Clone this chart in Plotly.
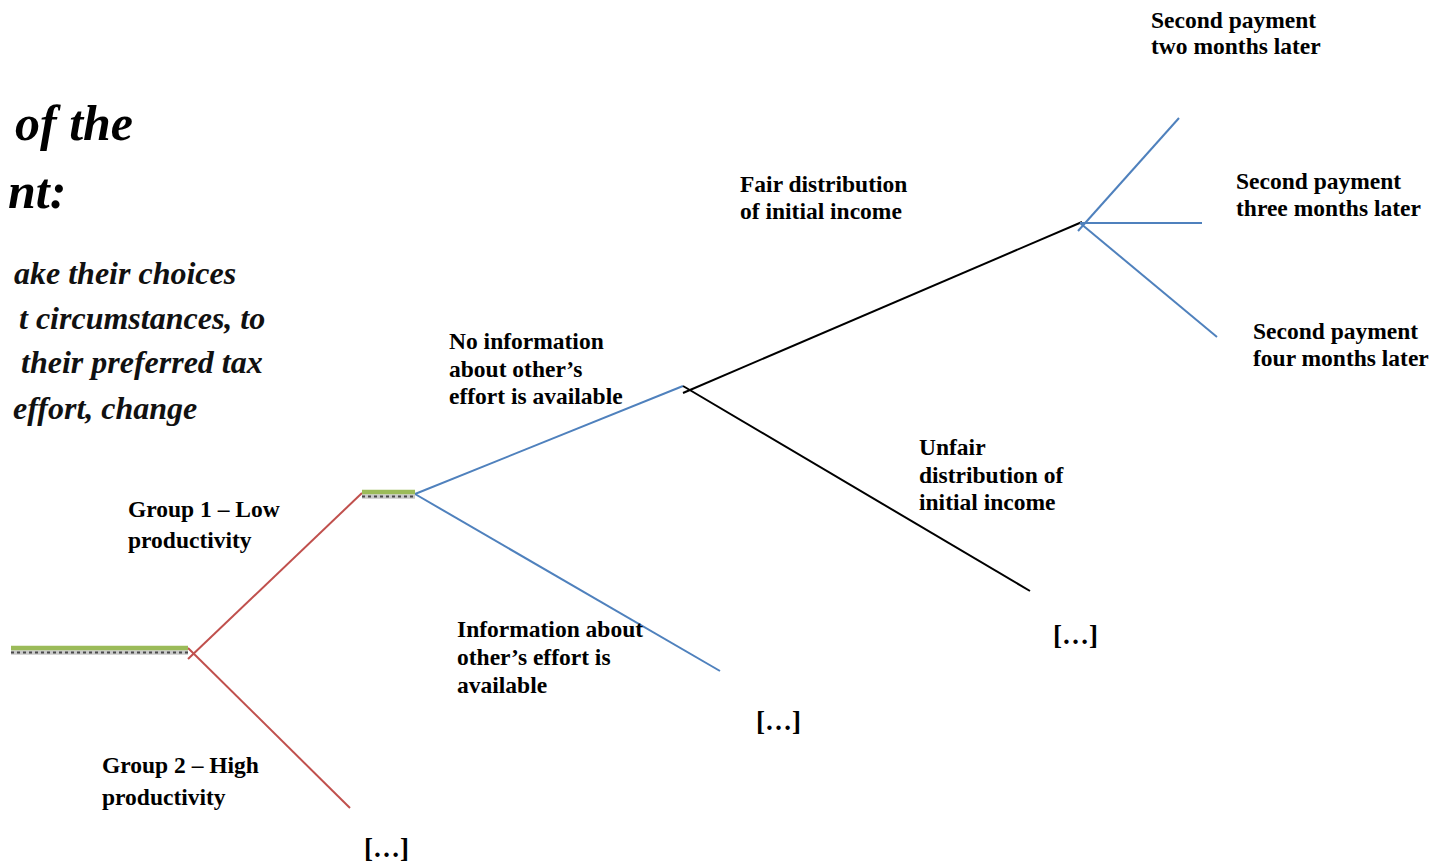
import plotly.graph_objects as go

W, H = 1437, 866
PAGE_MARGIN = 8  # default HTML body margin; the figure is offset by it

# Tree edges: (x0, y0, x1, y1) in diagram units
red_edges = [(188, 659, 362, 493), (188, 648, 350, 808)]
blue_edges = [(415, 494, 683, 386), (415, 494, 720, 671)]
black_edges = [(683, 393, 1082, 222), (683, 386, 1030, 591)]
fan_edges = [(1078, 231, 1179, 118), (1080, 223, 1202, 223), (1080, 223, 1217, 337)]

# Green decision-node bars: (x0, x1, y)
node_bars = [(11, 188, 648), (362, 415, 492)]

# Bold labels: (text, x, y)
labels = [
    ("Second payment", 1150, 20), ("two months later", 1150, 46),
    ("Second payment", 1235, 181), ("three months later", 1235, 208),
    ("Second payment", 1252, 331), ("four months later", 1252, 358),
    ("Fair distribution", 739, 184), ("of initial income", 739, 211),
    ("No information", 448, 341), ("about other’s", 448, 369), ("effort is available", 448, 396),
    ("Unfair", 918, 447), ("distribution of", 918, 475), ("initial income", 918, 502),
    ("Group 1 – Low", 127, 509), ("productivity", 127, 540),
    ("Information about", 456, 629), ("other’s effort is", 456, 657), ("available", 456, 685),
    ("Group 2 – High", 101, 765), ("productivity", 101, 797),
]
ellipses = [("[…]", 778, 721), ("[…]", 1075, 635), ("[…]", 386, 848)]

# Italic heading text (right-anchored)
title_lines = [("of the", 135, 123), ("nt:", 68, 191)]
body_lines = [("ake their choices", 238, 273), ("t circumstances, to", 267, 318),
              ("their preferred tax", 265, 362), ("effort, change", 199, 408)]


def seg_xy(edges):
    xs, ys = [], []
    for x0, y0, x1, y1 in edges:
        xs += [x0, x1, None]
        ys += [y0, y1, None]
    return xs, ys


fig = go.Figure()
for edges, col in [(red_edges, "#C0504D"), (blue_edges, "#4F81BD"),
                   (black_edges, "#000000"), (fan_edges, "#4F81BD")]:
    xs, ys = seg_xy(edges)
    fig.add_trace(go.Scatter(x=xs, y=ys, mode="lines",
                             line=dict(color=col, width=2), hoverinfo="skip"))

# node bars: green top, hatched gray underneath
gx, gy, hx, hy = [], [], [], []
for x0, x1, y in node_bars:
    gx += [x0, x1, None]
    gy += [y, y, None]
    hx += [x0, x1, None]
    hy += [y + 4.5, y + 4.5, None]
fig.add_trace(go.Scatter(x=hx, y=hy, mode="lines", line=dict(color="#c8c8c8", width=4.5), hoverinfo="skip"))
fig.add_trace(go.Scatter(x=hx, y=hy, mode="lines", line=dict(color="#4a4a4a", width=2, dash="dot"), hoverinfo="skip"))
fig.add_trace(go.Scatter(x=gx, y=gy, mode="lines", line=dict(color="#9BBB59", width=4.5), hoverinfo="skip"))

serif = "Liberation Serif"
for t, x, y in labels:
    fig.add_annotation(x=x, y=y, text=t, xref="x", yref="y", showarrow=False,
                       xanchor="left", yanchor="middle", borderpad=0,
                       font=dict(family=serif, size=23.5, color="black", weight="bold"))
for t, x, y in ellipses:
    fig.add_annotation(x=x, y=y, text=t, xref="x", yref="y", showarrow=False,
                       xanchor="center", yanchor="middle",
                       font=dict(family=serif, size=27, color="black", weight="bold"))
for t, x, y in title_lines:
    fig.add_annotation(x=x, y=y, text=t, xref="x", yref="y", showarrow=False,
                       xanchor="right", yanchor="middle",
                       font=dict(family=serif, size=50, color="black", weight="bold", style="italic"))
for t, x, y in body_lines:
    fig.add_annotation(x=x, y=y, text=t, xref="x", yref="y", showarrow=False,
                       xanchor="right", yanchor="middle",
                       font=dict(family=serif, size=32, color="#111111", weight="bold", style="italic"))

fig.update_layout(
    width=W - PAGE_MARGIN, height=H - PAGE_MARGIN, margin=dict(l=0, r=0, t=0, b=0),
    paper_bgcolor="white", plot_bgcolor="white", showlegend=False,
    xaxis=dict(range=[PAGE_MARGIN, W], visible=False, fixedrange=True),
    yaxis=dict(range=[H, PAGE_MARGIN], visible=False, fixedrange=True),
)
fig.write_html("out.html", config={"displayModeBar": False})
